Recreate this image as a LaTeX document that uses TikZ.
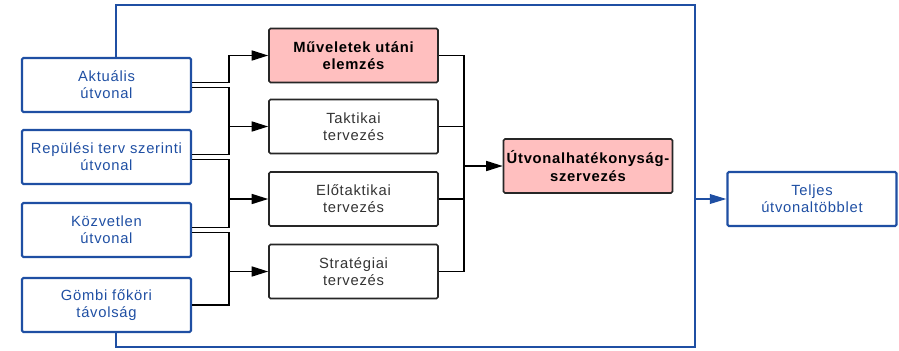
\documentclass[tikz,border=0pt]{standalone}
\usepackage{fontspec}
\setmainfont[LetterSpace=5]{Liberation Sans}
\usetikzlibrary{arrows.meta}
\definecolor{myblue}{HTML}{1F4FA3}
\definecolor{mypink}{HTML}{FFBFBF}
\definecolor{mygray}{HTML}{333333}
\begin{document}
\begin{tikzpicture}[%
            mybase/.style={minimum width=3.38cm, minimum height=1.08cm,
                align=center, inner sep=1pt, rounded corners=0.8pt,
                font=\fontsize{8.4}{9.8}\selectfont},
            myinput/.style={mybase, draw=myblue, line width=1.2pt, text=myblue},
            mybox/.style={mybase, draw=black!85, line width=0.9pt, text=mygray},
            myhot/.style={mybox, fill=mypink, text=black,
                font=\fontsize{8.4}{9.8}\selectfont\bfseries},
            myline/.style={line width=0.9pt},
            myarrow/.style={myline, -{Triangle[length=3.3mm,width=2mm]}},
            myframe/.style={draw=myblue, line width=1pt},
            myout/.style={myframe, -{Triangle[length=3.3mm,width=1.9mm]}}
        ]
        \useasboundingbox (0,0) rectangle (17.98,7);

        % inputs
        \node [myinput] (akt) at (2.13,5.30) {Aktuális\\útvonal};
        \node [myinput] (rep) at (2.13,3.86) {Repülési terv szerinti\\útvonal};
        \node [myinput] (koz) at (2.13,2.40) {Közvetlen\\útvonal};
        \node [myinput] (gom) at (2.13,0.90) {Gömbi főköri\\távolság};

        % planning phases
        \node [myhot] (mu)  at (7.07,5.89) {Műveletek utáni\\elemzés};
        \node [mybox] (tak) at (7.07,4.47) {Taktikai\\tervezés};
        \node [mybox] (elo) at (7.07,3.02) {Előtaktikai\\tervezés};
        \node [mybox] (str) at (7.07,1.57) {Stratégiai\\tervezés};

        \node [myhot] (utv) at (11.76,3.68) {Útvonalhatékonyság-\\szervezés};
        \node [myinput] (tel) at (16.24,3.02) {Teljes\\útvonaltöbblet};

        \coordinate (jl) at (4.58,0);
        \coordinate (jr) at (9.28,0);
        \coordinate (ftop) at (2.32,6.90);
        \coordinate (fbot) at (13.90,0.06);

        % inputs to phases
        \draw [myarrow] ([yshift=0.05cm]akt.east) -| (jl |- mu.west) -- (mu.west);
        \draw [myarrow] ([yshift=-0.05cm]akt.east) -| (jl |- tak.west) -- (tak.west);
        \draw [myline] ([yshift=0.05cm]rep.east) -| (jl |- tak.west);
        \draw [myarrow] ([yshift=-0.05cm]rep.east) -| (jl |- elo.west) -- (elo.west);
        \draw [myline] ([yshift=0.05cm]koz.east) -| (jl |- elo.west);
        \draw [myarrow] ([yshift=-0.05cm]koz.east) -| (jl |- str.west) -- (str.west);
        \draw [myline] (gom.east) -| (jl |- str.west);

        % phases to result
        \draw [myline] (mu.east) -| (jr |- str.east) -- (str.east);
        \draw [myline] (tak.east) -- (jr |- tak.east);
        \draw [myline] (elo.east) -- (jr |- elo.east);
        \draw [myarrow] (jr |- utv.west) -- (utv.west);

        % frame
        \draw [myframe] (ftop |- akt.north) -- (ftop) -| (fbot) -| (ftop |- gom.south);
        \draw [myout] (fbot |- tel.west) -- (tel.west);
    \end{tikzpicture}
\end{document}
